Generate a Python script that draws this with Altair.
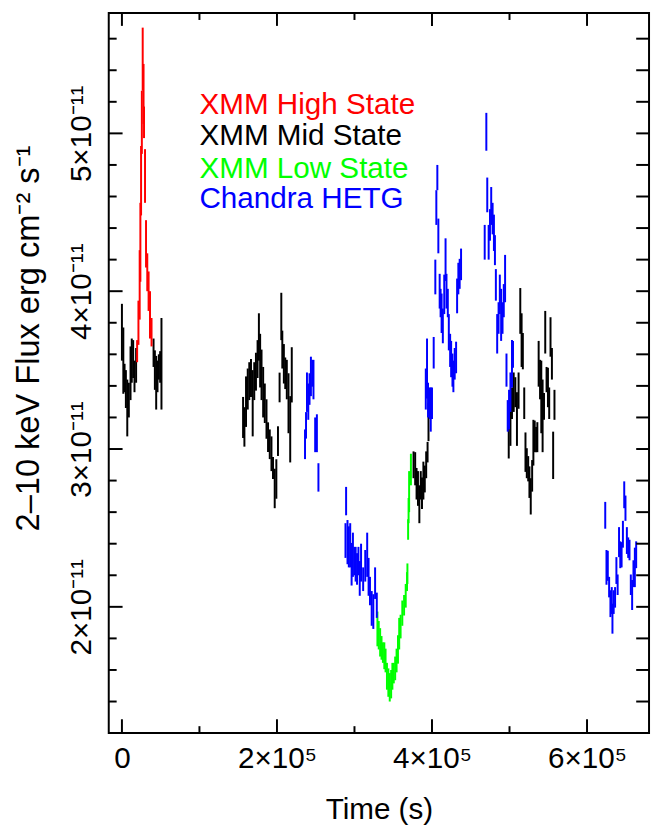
import altair as alt
import pandas as pd

FONT = "Liberation Sans"
SCALE = 1e-11  # flux values below are in units of 1e-11 erg cm^-2 s^-1

# ---------------- XMM Mid State (black) ----------------
mid_t = [0, 1800, 3400, 5100, 6900, 8900, 11100, 12700, 14500, 16200, 18300,
         40800, 42500, 44200, 45900, 47600, 49300, 51000,
         156300, 158000, 160100, 162300, 164300, 166500, 168700, 170700, 172900, 175000,
         176700, 178300, 180100, 182200, 184300, 186500, 188500, 190700, 192900, 194900,
         197100, 199200, 201300, 203400, 205600, 206900, 208900, 210700, 212700, 214900,
         217100, 219100,
         376200, 378300, 380100, 381900, 383700, 385500, 387100, 388900, 390700, 392500,
         394300, 395500,
         499000, 501200, 503200, 505400, 507500, 509600, 511700, 513900, 515600, 517200,
         519000, 520600, 522300, 524100, 525700, 527400, 529200, 530800, 532500, 534300,
         535900, 537600, 539400, 541000, 542700, 544500, 546100, 547800, 549600, 551200,
         552900, 554700, 556300, 558000]
mid_f = [3.74, 3.56, 3.45, 3.38, 3.26, 3.31, 3.48, 3.56, 3.57, 3.46, 3.53,
         3.61, 3.50, 3.42, 3.46, 3.52, 3.52, 3.54,
         3.20, 3.14, 3.30, 3.38, 3.43, 3.45, 3.29, 3.43, 3.49, 3.57,
         3.71, 3.56, 3.47, 3.36, 3.29, 3.19, 3.075, 3.03, 2.97, 2.88,
         2.75, 2.81, 3.05, 3.39, 3.84, 3.63, 3.54, 3.48, 3.44, 3.29,
         3.125, 3.47,
         2.90, 2.875, 2.78, 2.75, 2.65, 2.77, 2.72, 2.80, 2.81, 2.90,
         2.98, 3.17,
         3.04, 3.17, 3.29, 3.36, 3.36, 3.19, 3.37, 3.875, 3.69, 3.62,
         3.29, 2.98, 2.91, 2.875, 2.79, 2.70, 2.83, 3.04, 3.08, 3.06,
         3.075, 3.54, 3.44, 3.33, 3.21, 3.27, 3.74, 3.44, 3.39, 3.29,
         3.71, 3.54, 2.96, 3.28]
mid_e = [0.18, 0.21, 0.09, 0.12, 0.18, 0.11, 0.17, 0.14, 0.12, 0.10, 0.11,
         0.09, 0.125, 0.17, 0.10, 0.08, 0.10, 0.29,
         0.13, 0.125, 0.16, 0.13, 0.12, 0.12, 0.21, 0.12, 0.12, 0.12,
         0.15, 0.17, 0.16, 0.16, 0.125, 0.125, 0.094, 0.094, 0.11, 0.07,
         0.125, 0.125, 0.094, 0.094, 0.15, 0.12, 0.125, 0.10, 0.125, 0.19,
         0.21, 0.175,
         0.085, 0.105, 0.10, 0.11, 0.12, 0.09, 0.10, 0.12, 0.085, 0.085,
         0.065, 0.12,
         0.10, 0.15, 0.10, 0.125, 0.095, 0.17, 0.115, 0.145, 0.17, 0.115,
         0.10, 0.125, 0.095, 0.08, 0.10, 0.115, 0.10, 0.145, 0.10, 0.08,
         0.095, 0.145, 0.125, 0.23, 0.23, 0.085, 0.135, 0.08, 0.125, 0.10,
         0.125, 0.10, 0.15, 0.095]

# ---------------- XMM High State (red) ----------------
high_t = [19600, 21300, 22900, 23800, 24700, 25700, 26800, 27900, 28500, 29800,
          31100, 32700, 34400, 36200, 38200]
high_f = [3.62, 3.80, 4.04, 4.31, 4.70, 5.07, 5.47, 5.25, 5.07, 4.73,
          4.30, 4.12, 4.00, 3.85, 3.74]
high_e = [0.07, 0.14, 0.22, 0.25, 0.22, 0.20, 0.20, 0.19, 0.10, 0.17,
          0.15, 0.12, 0.125, 0.15, 0.09]

# ---------------- XMM Low State (green) ----------------
low_t = [329600, 331300, 333100, 334900, 336700, 338500, 340100, 341900, 343700, 345500,
         347300, 348900, 350700, 352500, 354300, 356100, 357700, 359500, 361700, 364000,
         366100, 367800, 368300, 369200, 369800, 370500, 372800]
low_f = [1.86, 1.82, 1.775, 1.74, 1.71, 1.69, 1.66, 1.56, 1.52, 1.49,
         1.51, 1.56, 1.58, 1.61, 1.66, 1.73, 1.83, 1.875, 1.96, 2.01,
         2.07, 2.16, 2.21, 2.49, 2.61, 2.73, 2.87]
low_e = [0.11, 0.09, 0.09, 0.075, 0.065, 0.085, 0.075, 0.085, 0.09, 0.09,
         0.09, 0.085, 0.065, 0.075, 0.075, 0.09, 0.10, 0.075, 0.08, 0.065,
         0.075, 0.06, 0.065, 0.065, 0.08, 0.13, 0.10]

# ---------------- Chandra HETG (blue) ----------------
chandra_t = [236200, 237500, 238700, 240400, 242000, 243800, 245500, 247100, 249300, 251500,
             253500,
             288400, 289200, 291000, 292700, 294500, 296300, 298000, 299800, 301500, 303300,
             305100, 306800, 308500, 311200, 313900, 316400, 318200, 320000, 322200, 324300,
             326600, 328800,
             392000, 393600, 394900, 397100, 398400, 400000, 402200, 404300, 405600, 406900,
             408200, 409900, 411100, 412400, 414000, 415800, 417500, 418700, 420400, 421700,
             423400, 424700, 426400, 427600, 429300, 431100, 432400, 434000, 435700, 437500,
             468000, 470100, 471300, 473100, 474800, 476400, 478200, 479900, 481200, 482400,
             484100, 485900, 487500, 489200, 491000, 492600, 494300, 496100, 497700, 499400,
             501200, 503200, 504500,
             623500, 625100, 626800, 628500, 630200, 631900, 632800, 634400, 636200, 637900,
             639500, 641300, 642900, 644600, 646300, 648000, 649600, 651400, 653100, 654800,
             656500, 658200, 659900, 661700, 663400]
chandra_f = [3.03, 3.15, 3.36, 3.30, 3.38, 3.46, 3.48, 3.44, 3.09, 3.10,
             2.82,
             2.42, 2.67, 2.41, 2.38, 2.39, 2.27, 2.33, 2.29, 2.27, 2.24,
             2.29, 2.18, 2.28, 2.175, 2.26, 2.33, 2.19, 2.10, 1.99, 1.97,
             2.15, 2.01,
             3.38, 3.51, 3.31, 3.29, 3.25, 3.29, 3.61, 4.09, 4.53, 4.72,
             4.35, 4.00, 3.925, 3.86, 3.78, 3.98, 4.20, 4.00, 3.925, 3.74,
             3.625, 3.57, 3.50, 3.46, 3.54, 3.58, 3.97, 4.08, 4.11, 4.17,
             4.31, 5.01, 4.61, 4.31, 4.42, 4.54, 4.46, 4.37, 4.26, 4.04,
             3.73, 3.83, 3.98, 3.85, 3.83, 3.94, 4.08, 3.50, 3.21, 3.25,
             3.36, 3.54, 3.60,
             2.58, 2.25, 2.26, 2.125, 2.02, 2.04, 1.925, 2.03, 2.06, 2.23,
             2.14, 2.41, 2.33, 2.33, 2.46, 2.71, 2.625, 2.42, 2.375, 2.36,
             2.14, 2.075, 2.21, 2.25, 2.33]
chandra_e = [0.094, 0.084, 0.125, 0.115, 0.10, 0.125, 0.085, 0.125, 0.11, 0.12,
             0.09,
             0.11, 0.09, 0.14, 0.13, 0.14, 0.135, 0.14, 0.09, 0.11, 0.10,
             0.09, 0.11, 0.12, 0.075, 0.10, 0.14, 0.12, 0.09, 0.11, 0.11,
             0.10, 0.08,
             0.13, 0.19, 0.11, 0.10, 0.14, 0.10, 0.10, 0.11, 0.11, 0.08,
             0.11, 0.11, 0.09, 0.125, 0.11, 0.125, 0.135, 0.11, 0.09, 0.115,
             0.105, 0.115, 0.105, 0.10, 0.10, 0.10, 0.11, 0.10, 0.095, 0.10,
             0.11, 0.12, 0.11, 0.11, 0.10, 0.12, 0.10, 0.115, 0.095, 0.10,
             0.125, 0.10, 0.125, 0.165, 0.10, 0.105, 0.15, 0.105, 0.10, 0.125,
             0.125, 0.15, 0.085,
             0.085, 0.11, 0.095, 0.065, 0.085, 0.085, 0.095, 0.075, 0.065, 0.085,
             0.065, 0.095, 0.085, 0.08, 0.085, 0.085, 0.08, 0.085, 0.065, 0.065,
             0.065, 0.095, 0.085, 0.125, 0.085]

# ---------------- legend / axes ----------------
groups = ["mid", "high", "low", "chandra"]
group_colors = ["#000000", "#ff0000", "#00ff00", "#0000ff"]

legend_labels = ["XMM High State", "XMM Mid State", "XMM Low State", "Chandra HETG"]
legend_colors = ["#ff0000", "#000000", "#00ff00", "#0000ff"]
legend_x = [1e5, 1e5, 1e5, 1e5]
legend_y = [5.125, 4.925, 4.72, 4.53]

x_major = [0, 2e5, 4e5, 6e5]
x_minor = [1e5, 3e5, 5e5]
y_major = [2, 3, 4, 5]
y_minor = [1.4, 1.6, 1.8, 2.2, 2.4, 2.6, 2.8, 3.2, 3.4, 3.6, 3.8,
           4.2, 4.4, 4.6, 4.8, 5.2, 5.4, 5.6]
y_right = sorted(y_major + y_minor)

X_DOMAIN = [-17000, 680000]
Y_DOMAIN = [1.2, 5.7625]

W, H = 547, 729

# ---------------- build tables ----------------
rows = []
for name, ts, fs, es in [("mid", mid_t, mid_f, mid_e),
                         ("high", high_t, high_f, high_e),
                         ("low", low_t, low_f, low_e),
                         ("chandra", chandra_t, chandra_f, chandra_e)]:
    assert len(ts) == len(fs) == len(es), name
    for t, f, e in zip(ts, fs, es):
        rows.append({"t": t, "lo": (f - e) * SCALE, "hi": (f + e) * SCALE, "group": name})
df = pd.DataFrame(rows)

xscale = alt.Scale(domain=X_DOMAIN, nice=False, zero=False)
yscale = alt.Scale(domain=[v * SCALE for v in Y_DOMAIN], nice=False, zero=False)

x_axis = alt.Axis(
    values=x_major, ticks=False, domain=False, grid=False,
    labelExpr="datum.value == 0 ? '0' : round(datum.value / 100000) + '×10⁵'",
    labelFontSize=30, labelFont=FONT, labelColor="black", labelPadding=11,
    labelBaseline="top", labelFlush=False, labelOverlap=False,
    title="Time (s)", titleFontSize=30, titleFont=FONT, titleFontWeight="normal",
    titleColor="black", titleBaseline="alphabetic", titleY=86,
)
y_axis = alt.Axis(
    values=[v * SCALE for v in y_major], ticks=False, domain=False, grid=False,
    labelExpr="round(datum.value * 1e11) + '×10⁻¹¹'",
    labelFontSize=30, labelFont=FONT, labelColor="black", labelAngle=270,
    labelAlign="center", labelBaseline="alphabetic", labelPadding=18,
    labelFlush=False, labelOverlap=False,
    title="2–10 keV Flux erg cm⁻² s⁻¹", titleFontSize=33, titleFont=FONT,
    titleFontWeight="normal", titleColor="black", titleAngle=270,
    titleAlign="center", titleBaseline="alphabetic", titleX=-71, titleY=329,
)

data_layer = alt.Chart(df).mark_rule(strokeWidth=2).encode(
    x=alt.X("t:Q", scale=xscale, axis=x_axis),
    y=alt.Y("lo:Q", scale=yscale, axis=y_axis),
    y2="hi:Q",
    color=alt.Color("group:N", scale=alt.Scale(domain=groups, range=group_colors), legend=None),
)

def ytick_layer(vals, x0, x1):
    d = pd.DataFrame({"lo": [v * SCALE for v in vals]})
    return alt.Chart(d).mark_rule(color="black", strokeWidth=2).encode(
        y=alt.Y("lo:Q", scale=yscale, axis=y_axis), x=alt.value(x0), x2=alt.value(x1))

def xtick_layer(vals, y0, y1):
    d = pd.DataFrame({"t": vals})
    return alt.Chart(d).mark_rule(color="black", strokeWidth=2).encode(
        x=alt.X("t:Q", scale=xscale, axis=x_axis), y=alt.value(y0), y2=alt.value(y1))

ticks = [
    ytick_layer(y_major, 0, 14),
    ytick_layer(y_minor, 0, 8),
    ytick_layer(y_right, W - 13, W),
    xtick_layer(x_major, H, H - 14),
    xtick_layer(x_minor, H, H - 7),
    xtick_layer(x_major, 0, 13),
    xtick_layer(x_minor, 0, 7),
]

legend_df = pd.DataFrame({
    "t": legend_x, "lo": [v * SCALE for v in legend_y],
    "label": legend_labels, "color": legend_colors,
})
legend_layer = alt.Chart(legend_df).mark_text(
    align="left", baseline="alphabetic", fontSize=30, font=FONT
).encode(
    x=alt.X("t:Q", scale=xscale, axis=x_axis),
    y=alt.Y("lo:Q", scale=yscale, axis=y_axis),
    text="label:N",
    color=alt.Color("color:N", scale=None),
)

chart = alt.layer(data_layer, *ticks, legend_layer).resolve_scale(
    color="independent"
).properties(
    width=W, height=H,
    autosize=alt.AutoSizeParams(type="none"),
    padding={"left": 102, "top": 0, "right": 3, "bottom": 92},
    background="white",
).configure_view(stroke="black", strokeWidth=2)

chart.save("out.html", embed_options={"renderer": "svg", "actions": False})
